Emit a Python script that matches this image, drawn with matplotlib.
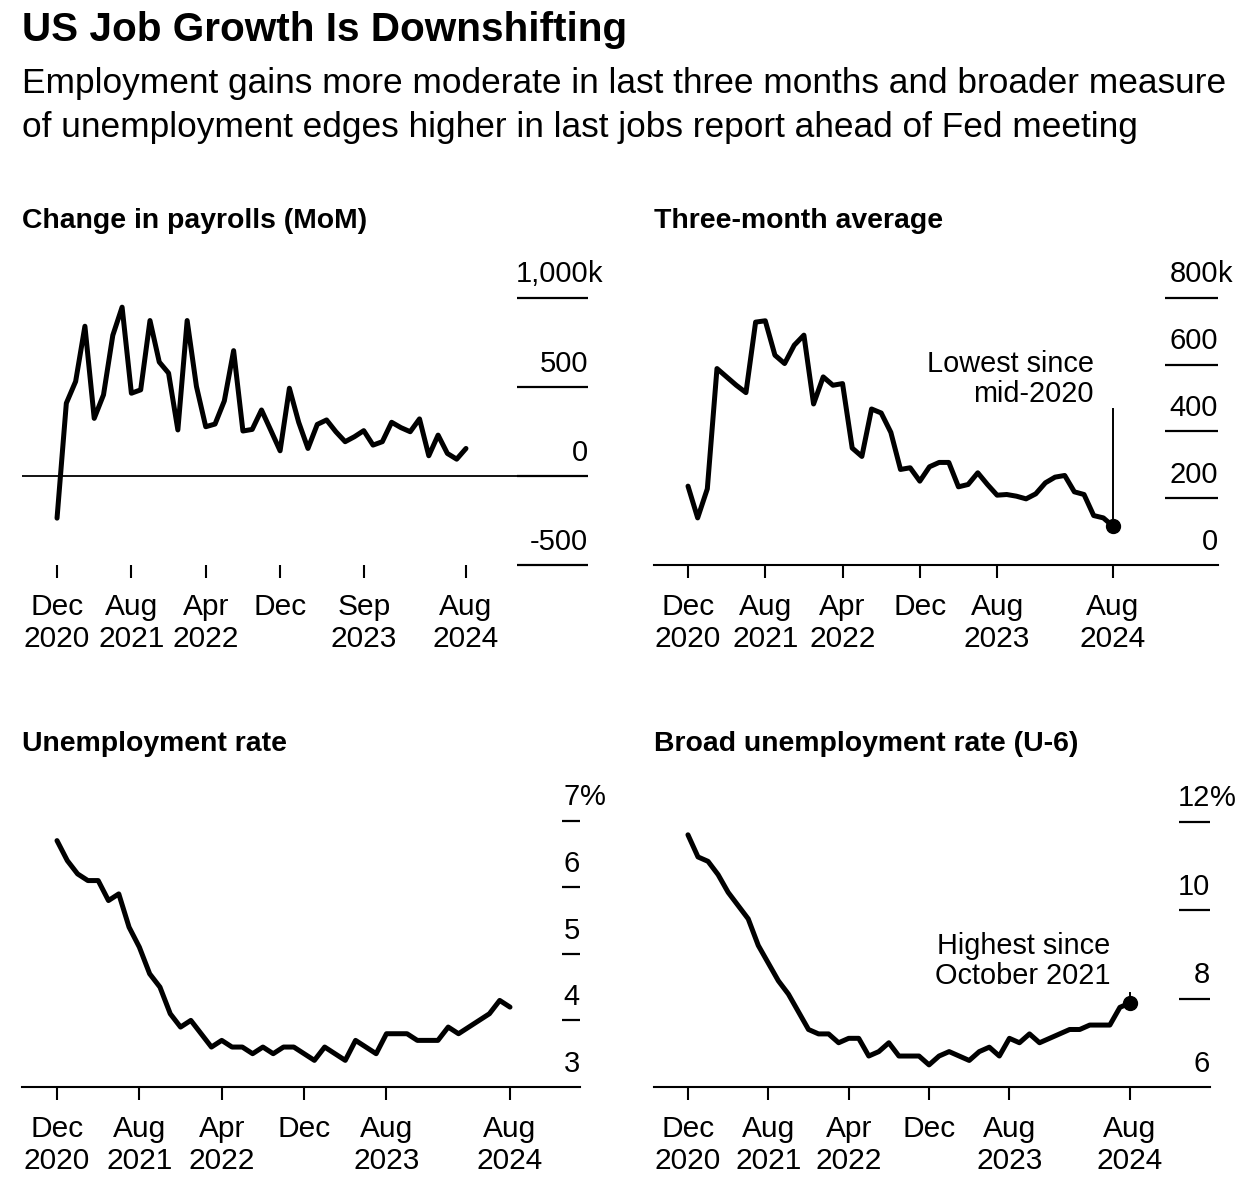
import numpy as np
import matplotlib
matplotlib.use("Agg")
import matplotlib.pyplot as plt

plt.rcParams["font.family"] = ["Liberation Sans", "DejaVu Sans"]

W, H = 1244, 1194

# monthly, Dec 2020 .. Aug 2024
months = np.arange(45)

payrolls = [-237, 408, 530, 840, 323, 455, 789, 947, 464, 483, 872, 639, 577,
            258, 872, 502, 276, 291, 421, 703, 252, 261, 370, 256, 141,
            492, 301, 154, 289, 314, 248, 192, 220, 254, 173, 192, 301,
            271, 248, 320, 113, 229, 126, 94, 154]
three_month = [236, 141, 228, 588, 563, 538, 516, 727, 731, 628, 603, 658, 688,
               482, 563, 538, 543, 350, 325, 467, 455, 397, 286, 291, 251,
               294, 307, 307, 234, 241, 276, 241, 209, 211, 206, 198, 213,
               246, 263, 268, 219, 211, 148, 141, 116]
unemployment = [6.7, 6.4, 6.2, 6.1, 6.1, 5.8, 5.9, 5.4, 5.1, 4.7, 4.5, 4.1, 3.9,
                4.0, 3.8, 3.6, 3.7, 3.6, 3.6, 3.5, 3.6, 3.5, 3.6, 3.6, 3.5,
                3.4, 3.6, 3.5, 3.4, 3.7, 3.6, 3.5, 3.8, 3.8, 3.8, 3.7, 3.7,
                3.7, 3.9, 3.8, 3.9, 4.0, 4.1, 4.3, 4.2]
u6 = [11.7, 11.2, 11.1, 10.8, 10.4, 10.1, 9.8, 9.2, 8.8, 8.4, 8.1, 7.7, 7.3,
      7.2, 7.2, 7.0, 7.1, 7.1, 6.7, 6.8, 7.0, 6.7, 6.7, 6.7, 6.5,
      6.7, 6.8, 6.7, 6.6, 6.8, 6.9, 6.7, 7.1, 7.0, 7.2, 7.0, 7.1,
      7.2, 7.3, 7.3, 7.4, 7.4, 7.4, 7.8, 7.9]

xticks_a = [0, 8, 16, 24, 33, 44]
xlabels_a = ["Dec\n2020", "Aug\n2021", "Apr\n2022", "Dec", "Sep\n2023", "Aug\n2024"]
xticks_b = [0, 8, 16, 24, 32, 44]
xlabels_b = ["Dec\n2020", "Aug\n2021", "Apr\n2022", "Dec", "Aug\n2023", "Aug\n2024"]

TICK_FS = 21.5
Y_FS = 21
NOTE_FS = 20.8
LW = 3.6


def add_px_axes(fig, left, right, top, bottom):
    return fig.add_axes([left / W, 1 - bottom / H, (right - left) / W, (bottom - top) / H])


def style_axes(ax, xlim, ylim, xticks, xlabels, yticks, ylabels, suffix,
               grid_px, spine=True):
    ax.set_xlim(*xlim)
    ax.set_ylim(*ylim)
    for s in ax.spines.values():
        s.set_visible(False)
    if spine:
        ax.spines["bottom"].set_visible(True)
        ax.spines["bottom"].set_linewidth(1.5)
    ax.set_yticks([])
    ax.set_xticks(xticks)
    ax.set_xticklabels(xlabels, fontsize=TICK_FS, linespacing=1.2)
    ax.tick_params(axis="x", length=9, width=1.5, pad=11, direction="out")

    width_px = ax.get_position().width * W
    gfrac = grid_px / width_px
    trans = ax.get_yaxis_transform()
    for i, (v, lab) in enumerate(zip(yticks, ylabels)):
        if not (spine and i == 0):
            ax.plot([1 - gfrac, 1], [v, v], transform=trans, color="black",
                    lw=1.6, clip_on=False, solid_capstyle="butt")
        ax.annotate(lab, xy=(1, v), xycoords=trans, xytext=(0, 11),
                    textcoords="offset points", ha="right", va="baseline",
                    fontsize=Y_FS)
        if i == len(yticks) - 1:
            ax.annotate(suffix, xy=(1, v), xycoords=trans, xytext=(0, 11),
                        textcoords="offset points", ha="left", va="baseline",
                        fontsize=Y_FS)


fig = plt.figure(figsize=(W / 100, H / 100), dpi=100)
fig.patch.set_facecolor("white")

fig.text(22 / W, 1 - 30 / H, "US Job Growth Is Downshifting", fontsize=29.2,
         fontweight="bold", va="center", ha="left")
fig.text(22 / W, 1 - 83 / H,
         "Employment gains more moderate in last three months and broader measure",
         fontsize=25.4, va="center", ha="left")
fig.text(22 / W, 1 - 127 / H,
         "of unemployment edges higher in last jobs report ahead of Fed meeting",
         fontsize=25.4, va="center", ha="left")

for x, y, t in [(22, 221, "Change in payrolls (MoM)"), (654, 221, "Three-month average"),
                (22, 744, "Unemployment rate"), (654, 744, "Broad unemployment rate (U-6)")]:
    fig.text(x / W, 1 - y / H, t, fontsize=20.4, fontweight="bold", va="center", ha="left")

# Panel 1: change in payrolls
ax1 = add_px_axes(fig, 22, 588, 271, 565)
ax1.plot(months, payrolls, color="black", lw=LW, solid_joinstyle="round",
         solid_capstyle="round")
ax1.axhline(0, color="black", lw=1.3, zorder=0)
style_axes(ax1, (-3.77, 57.13), (-500, 1150), xticks_a, xlabels_a,
           [-500, 0, 500, 1000], ["-500", "0", "500", "1,000"], "k", 71, spine=False)

# Panel 2: three-month average
ax2 = add_px_axes(fig, 654, 1218, 271, 565)
ax2.plot(months, three_month, color="black", lw=LW, solid_joinstyle="round",
         solid_capstyle="round")
ax2.plot(months[-1], three_month[-1], "o", color="black", ms=10)
ax2.plot([months[-1], months[-1]], [three_month[-1], 466], color="black", lw=1.4)
ax2.annotate("Lowest since\nmid-2020", xy=(months[-1], 466), xytext=(-14, 1),
             textcoords="offset points", ha="right", va="bottom",
             fontsize=NOTE_FS, linespacing=1.1)
style_axes(ax2, (-3.52, 54.87), (0, 880), xticks_b, xlabels_b,
           [0, 200, 400, 600, 800], ["0", "200", "400", "600", "800"], "k", 53)

# Panel 3: unemployment rate
ax3 = add_px_axes(fig, 22, 580, 794, 1087)
ax3.plot(months, unemployment, color="black", lw=LW, solid_joinstyle="round",
         solid_capstyle="round")
style_axes(ax3, (-3.40, 50.8), (3, 7.4), xticks_b, xlabels_b,
           [3, 4, 5, 6, 7], ["3", "4", "5", "6", "7"], "%", 18)

# Panel 4: U-6
ax4 = add_px_axes(fig, 654, 1210, 795, 1087)
ax4.plot(months, u6, color="black", lw=LW, solid_joinstyle="round",
         solid_capstyle="round")
ax4.plot(months[-1], u6[-1], "o", color="black", ms=10)
ax4.plot([months[-1], months[-1]], [u6[-1], 8.12], color="black", lw=1.4)
ax4.annotate("Highest since\nOctober 2021", xy=(months[-1], 8.12), xytext=(-14, 2),
             textcoords="offset points", ha="right", va="bottom",
             fontsize=NOTE_FS, linespacing=1.1)
style_axes(ax4, (-3.38, 51.97), (6, 12.6), xticks_b, xlabels_b,
           [6, 8, 10, 12], ["6", "8", "10", "12"], "%", 31)

fig.savefig("out.png", dpi=100, facecolor="white")
